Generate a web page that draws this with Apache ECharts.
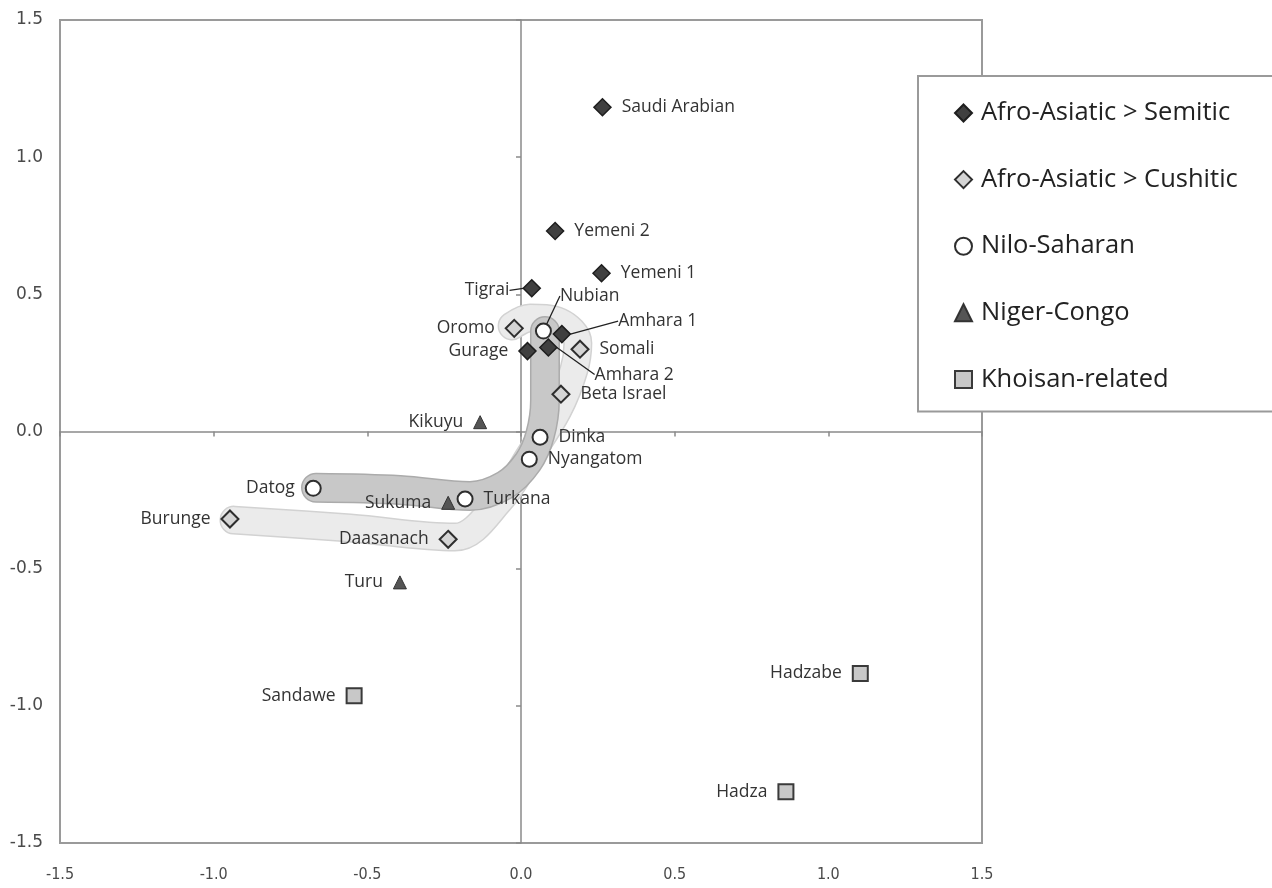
<!DOCTYPE html>
<html>
<head>
<meta charset="utf-8">
<script src="https://cdn.jsdelivr.net/npm/echarts@6/dist/echarts.min.js"></script>
<style>
  html, body { margin: 0; padding: 0; background: #ffffff; }
  #chart { width: 1272px; height: 888px; }
</style>
</head>
<body>
<div id="chart"></div>
<script>
// Axis range and tick step (both axes)
const axisMin = -1.5;
const axisMax = 1.5;
const axisStep = 0.5;

// Group names, in legend order
const groupNames = ['Afro-Asiatic > Semitic', 'Afro-Asiatic > Cushitic', 'Nilo-Saharan', 'Niger-Congo', 'Khoisan-related'];

// Afro-Asiatic > Semitic
const semiticNames = ['Saudi Arabian', 'Yemeni 2', 'Yemeni 1', 'Tigrai', 'Amhara 1', 'Gurage', 'Amhara 2'];
const semiticX = [0.265, 0.111, 0.262, 0.035, 0.133, 0.021, 0.089];
const semiticY = [1.182, 0.731, 0.577, 0.522, 0.355, 0.293, 0.306];

// Afro-Asiatic > Cushitic
const cushiticNames = ['Oromo', 'Somali', 'Beta Israel', 'Burunge', 'Daasanach'];
const cushiticX = [-0.022, 0.192, 0.130, -0.947, -0.237];
const cushiticY = [0.376, 0.300, 0.136, -0.319, -0.393];

// Nilo-Saharan
const niloNames = ['Nubian', 'Dinka', 'Nyangatom', 'Turkana', 'Datog'];
const niloX = [0.073, 0.062, 0.027, -0.182, -0.676];
const niloY = [0.366, -0.021, -0.101, -0.246, -0.207];

// Niger-Congo
const nigerNames = ['Kikuyu', 'Sukuma', 'Turu'];
const nigerX = [-0.133, -0.237, -0.394];
const nigerY = [0.034, -0.260, -0.550];

// Khoisan-related
const khoisanNames = ['Sandawe', 'Hadzabe', 'Hadza'];
const khoisanX = [-0.543, 1.104, 0.862];
const khoisanY = [-0.963, -0.882, -1.313];

// Shaded bands tracing the Cushitic and Nilo-Saharan clines
const cushiticBandX = [-0.934, -0.556, -0.215, -0.068, 0.029, 0.120, 0.172, 0.185, 0.127, 0.029, -0.029];
const cushiticBandY = [-0.323, -0.352, -0.385, -0.250, -0.086, 0.078, 0.224, 0.323, 0.399, 0.414, 0.385];
const niloBandX = [-0.667, -0.394, -0.166, -0.052, 0.023, 0.062, 0.078, 0.078];
const niloBandY = [-0.205, -0.213, -0.235, -0.195, -0.111, -0.013, 0.115, 0.366];

// Which side each label sits on
const leftLabels = ['Tigrai', 'Oromo', 'Gurage', 'Kikuyu', 'Sukuma', 'Datog', 'Burunge', 'Daasanach',
  'Turu', 'Sandawe', 'Hadzabe', 'Hadza'];
// Labels pulled away from their marker and joined to it by a leader line
const leaderShift = {
  'Nubian': [-2, -35],
  'Amhara 1': [37, -13],
  'Amhara 2': [27, 27],
  'Tigrai': [-3, 2]
};

const zip = (xs, ys) => xs.map((x, i) => [x, ys[i]]);

function points(names, xs, ys) {
  return names.map((n, i) => {
    const item = {
      name: n,
      value: [xs[i], ys[i]],
      label: { position: leftLabels.indexOf(n) >= 0 ? 'left' : 'right' }
    };
    if (leaderShift[n]) item.labelLine = { show: true };
    return item;
  });
}

const labelFont = {
  show: true,
  formatter: '{b}',
  distance: 10,
  fontFamily: 'Open Sans',
  fontSize: 17.5,
  color: '#333333'
};

function group(name, names, xs, ys, symbol, size, itemStyle) {
  return {
    name: name,
    type: 'scatter',
    symbol: symbol,
    symbolSize: size,
    z: 5,
    itemStyle: Object.assign({ opacity: 1 }, itemStyle),
    label: labelFont,
    labelLine: { show: false, lineStyle: { color: '#222222', width: 1.3 }, length2: 0 },
    labelLayout: function (p) {
      const n = names[p.dataIndex];
      const s = leaderShift[n];
      return s ? { dx: s[0], dy: s[1] } : {};
    },
    emphasis: { disabled: true },
    data: points(names, xs, ys)
  };
}

function band(xs, ys, width, color, z) {
  return {
    type: 'line',
    silent: true,
    symbol: 'none',
    smooth: 0.35,
    z: z,
    lineStyle: { width: width, color: color, cap: 'round', join: 'round' },
    data: zip(xs, ys)
  };
}

const axisGray = '#8a8a8a';

const chart = echarts.init(document.getElementById('chart'), null, { renderer: 'canvas' });
chart.setOption({
  animation: false,
  backgroundColor: '#ffffff',
  grid: {
    left: 60, right: 290, top: 20, bottom: 45,
    show: true, borderColor: '#9a9a9a', borderWidth: 2
  },
  xAxis: [
    {
      type: 'value', min: axisMin, max: axisMax, interval: axisStep, position: 'bottom',
      axisLine: { onZero: true, lineStyle: { color: axisGray, width: 1.5 } },
      axisTick: { show: true, length: 5, lineStyle: { color: axisGray, width: 1.5 } },
      axisLabel: { show: false },
      splitLine: { show: false }
    },
    {
      type: 'value', min: axisMin, max: axisMax, interval: axisStep, position: 'bottom',
      axisLine: { show: false, onZero: false },
      axisTick: { show: false },
      axisLabel: {
        margin: 24, color: '#4a4a4a', fontSize: 16,
        fontFamily: "'DejaVu Sans Condensed', 'Liberation Sans Narrow', sans-serif",
        formatter: v => v.toFixed(1)
      },
      splitLine: { show: false }
    }
  ],
  yAxis: [
    {
      type: 'value', min: axisMin, max: axisMax, interval: axisStep, position: 'left',
      axisLine: { onZero: true, lineStyle: { color: axisGray, width: 1.5 } },
      axisTick: { show: true, length: 5, lineStyle: { color: axisGray, width: 1.5 } },
      axisLabel: { show: false },
      splitLine: { show: false }
    },
    {
      type: 'value', min: axisMin, max: axisMax, interval: axisStep, position: 'left',
      axisLine: { show: false, onZero: false },
      axisTick: { show: false },
      axisLabel: {
        margin: 17, color: '#4a4a4a', fontSize: 17, fontFamily: 'DejaVu Sans',
        formatter: v => v.toFixed(1)
      },
      splitLine: { show: false }
    }
  ],
  legend: {
    data: groupNames,
    orient: 'vertical',
    left: 918, top: 76,
    padding: [22, 120, 17, 36],
    itemWidth: 17, itemHeight: 17, itemGap: 36.6,
    backgroundColor: '#ffffff',
    borderColor: '#9a9a9a', borderWidth: 2, borderRadius: 0,
    selectedMode: false,
    textStyle: {
      fontFamily: 'Open Sans', fontSize: 25.5, color: '#222222', lineHeight: 30,
      padding: [0, 0, 0, 4]
    }
  },
  series: [
    band(cushiticBandX, cushiticBandY, 29, '#d2d2d2', 1),
    band(cushiticBandX, cushiticBandY, 26, '#ebebeb', 1),
    band(niloBandX, niloBandY, 30, '#ababab', 2),
    band(niloBandX, niloBandY, 27, '#c8c8c8', 2),
    group(groupNames[0], semiticNames, semiticX, semiticY, 'diamond', 17,
      { color: '#404040', borderColor: '#1e1e1e', borderWidth: 1.5 }),
    group(groupNames[1], cushiticNames, cushiticX, cushiticY, 'diamond', 17,
      { color: '#d4d4d4', borderColor: '#2e2e2e', borderWidth: 2 }),
    group(groupNames[2], niloNames, niloX, niloY, 'circle', 15,
      { color: '#ffffff', borderColor: '#2e2e2e', borderWidth: 2 }),
    group(groupNames[3], nigerNames, nigerX, nigerY, 'triangle', 13,
      { color: '#555555', borderColor: '#333333', borderWidth: 1 }),
    group(groupNames[4], khoisanNames, khoisanX, khoisanY, 'rect', 15,
      { color: '#c8c8c8', borderColor: '#3a3a3a', borderWidth: 2 })
  ]
});
</script>
</body>
</html>
